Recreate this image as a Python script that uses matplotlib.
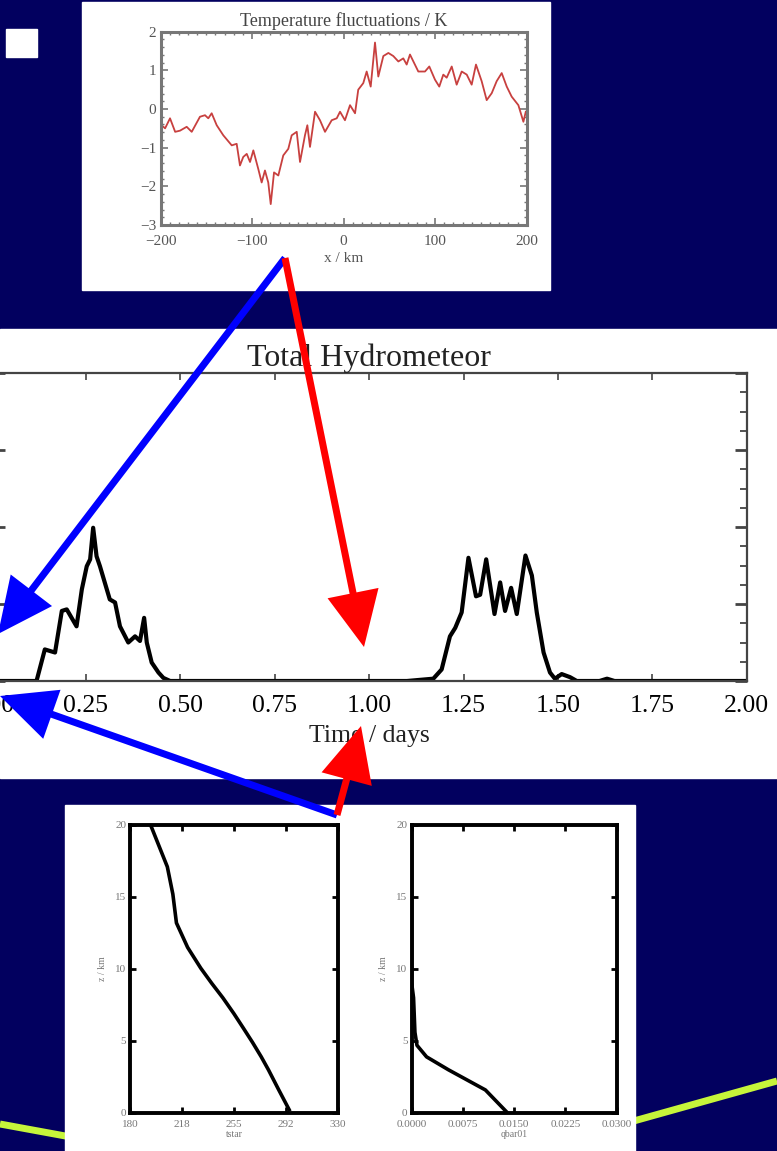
import numpy as np
import matplotlib
matplotlib.use("Agg")
import matplotlib.pyplot as plt
from matplotlib.patches import Rectangle, FancyArrow

plt.rcParams['font.family'] = ['Liberation Serif', 'DejaVu Serif']

# top panel: temperature fluctuations along x
x_km = [-198.7, -195, -189.6, -184, -178.7, -171.4, -165.9, -156.9, -151.4, -147.8,
        -144.1, -138.6, -131.4, -122.2, -116.8, -113.2, -109.6, -105.8, -102.2, -98.6,
        -93.2, -89.5, -85.9, -82.3, -79.6, -76, -71.3, -65.9, -60.4, -56.7,
        -51.2, -47.6, -42.2, -39.6, -36.7, -31.2, -25.8, -20.3, -13, -7.5,
        -3.9, 1.5, 7, 12.5, 16, 21.5, 25.2, 29.6, 34.3, 37.9,
        43.4, 48.9, 54.3, 59.8, 65.2, 68.9, 72.5, 81.6, 88.9, 93.6,
        99.8, 104.5, 108.9, 112.6, 118.1, 123.5, 129, 134.5, 139.9, 144.6,
        150.8, 156.3, 161.8, 167.2, 172.7, 178.2, 183.6, 190.9, 196.4, 199]
temp_k = [-0.42, -0.50, -0.24, -0.59, -0.56, -0.46, -0.59, -0.20, -0.16, -0.24,
          -0.11, -0.42, -0.68, -0.94, -0.90, -1.46, -1.24, -1.16, -1.37, -1.07,
          -1.55, -1.90, -1.59, -1.90, -2.46, -1.64, -1.72, -1.20, -1.03, -0.68,
          -0.59, -1.37, -0.68, -0.42, -0.98, -0.07, -0.29, -0.59, -0.29, -0.24,
          -0.07, -0.29, 0.10, -0.11, 0.50, 0.67, 0.97, 0.58, 1.72, 0.84,
          1.37, 1.45, 1.37, 1.23, 1.31, 1.15, 1.41, 0.97, 0.97, 1.10,
          0.76, 0.58, 0.89, 0.81, 1.10, 0.63, 0.97, 0.89, 0.63, 1.15,
          0.72, 0.23, 0.41, 0.72, 0.93, 0.58, 0.32, 0.10, -0.33, -0.07]
x_ticks = [-200, -100, 0, 100, 200]
t_ticks = [-3, -2, -1, 0, 1, 2]

# middle panel: total hydrometeor vs time
t_days = [0.0, 0.119, 0.141, 0.168, 0.186, 0.199, 0.225, 0.239, 0.252, 0.261,
          0.269, 0.278, 0.287, 0.313, 0.327, 0.340, 0.362, 0.380, 0.393, 0.404,
          0.411, 0.424, 0.442, 0.455, 0.473, 1.10, 1.170, 1.192, 1.214, 1.228,
          1.245, 1.263, 1.283, 1.294, 1.310, 1.332, 1.347, 1.360, 1.376, 1.391,
          1.414, 1.431, 1.444, 1.462, 1.479, 1.492, 1.510, 1.532, 1.55, 1.61,
          1.63, 1.65, 2.0]
hydro = [0.0, 0.0, 0.41, 0.37, 0.91, 0.93, 0.71, 1.19, 1.49, 1.58,
         1.99, 1.62, 1.49, 1.06, 1.02, 0.71, 0.50, 0.58, 0.52, 0.82,
         0.50, 0.24, 0.11, 0.04, 0.0, 0.0, 0.03, 0.15, 0.58, 0.69,
         0.89, 1.60, 1.10, 1.12, 1.58, 0.87, 1.28, 0.91, 1.21, 0.87,
         1.63, 1.37, 0.89, 0.37, 0.11, 0.03, 0.09, 0.05, 0.0, 0.0,
         0.03, 0.0, 0.0]
day_ticks = [0.0, 0.25, 0.5, 0.75, 1.0, 1.25, 1.5, 1.75, 2.0]

# bottom panels: initial profiles
z_tstar = [0.23, 1.6, 3.0, 3.9, 4.9, 5.9, 6.9, 8.0, 9.0, 10.06, 11.5, 13.2, 15.2, 17.1, 20]
tstar = [295, 287.5, 280, 274.8, 268.5, 261.8, 255, 247, 239, 231, 221.5, 213.4, 210.8, 206.8, 194.7]
z_km = [0, 1.6, 3.0, 3.9, 4.7, 5.6, 8.0, 9.1, 10.0, 15.0, 20]
qbar = [0.01405, 0.0108, 0.0054, 0.0022, 0.0008, 0.0005, 0.0003, 0.0, 0.0, 0.0, 0.0]
tstar_ticks = [180, 217.5, 255, 292.5, 330]
tstar_labels = ["180", "218", "255", "292", "330"]
q_ticks = [0.0, 0.0075, 0.015, 0.0225, 0.03]
q_labels = ["0.0000", "0.0075", "0.0150", "0.0225", "0.0300"]
z_ticks = [0, 5, 10, 15, 20]

W, H = 777, 1151
NAVY = '#02005f'


def px(x0, y0, x1, y1):
    return [x0 / W, 1 - y1 / H, (x1 - x0) / W, (y1 - y0) / H]


fig = plt.figure(figsize=(W / 100, H / 100), dpi=100, facecolor=NAVY)

# background layer: white panels, green line
bg = fig.add_axes([0, 0, 1, 1], zorder=0)
bg.set_xlim(0, W)
bg.set_ylim(H, 0)
bg.axis('off')
bg.plot([0, 376, 777], [1124, 1193, 1081], color='#c6f53a', lw=5, solid_capstyle='butt', zorder=1)
bg.add_patch(Rectangle((6, 29), 31, 28, color='white', zorder=2))
bg.add_patch(Rectangle((82, 2), 468, 288, color='white', zorder=2))
bg.add_patch(Rectangle((0, 329), 777, 449, color='white', zorder=2))
bg.add_patch(Rectangle((65, 805), 570, 346, color='white', zorder=2))

# top panel
ax1 = fig.add_axes(px(160.5, 31.7, 526.7, 225), zorder=1)
ax1.patch.set_alpha(0)
ax1.plot(x_km, temp_k, color='#c8403f', lw=1.3)
ax1.set_xlim(-200, 200)
ax1.set_ylim(-3, 2)
ax1.set_xticks(x_ticks)
ax1.set_yticks(t_ticks)
ax1.set_xticks(np.arange(-200, 201, 10), minor=True)
ax1.set_yticks(np.arange(-3, 2.01, 0.2), minor=True)
ax1.tick_params(which='both', direction='in', top=True, right=True, color='#777777',
                labelsize=11, labelcolor='#555555')
ax1.tick_params(which='major', length=5, width=1.2)
ax1.tick_params(which='minor', length=2.5, width=1)
ax1.tick_params(axis='x', pad=7)
ax1.tick_params(axis='y', pad=3)
for s in ax1.spines.values():
    s.set_color('#777777')
    s.set_linewidth(2.2)
ax1.set_title("Temperature fluctuations / K", fontsize=13, color='#444444', pad=4)
ax1.set_xlabel("x / km", fontsize=11, color='#555555', labelpad=3)

# middle panel
ax2 = fig.add_axes(px(-8.4, 373, 746.7, 681), zorder=1)
ax2.patch.set_alpha(0)
ax2.plot(t_days, hydro, color='black', lw=3, solid_joinstyle='round')
ax2.set_xlim(0, 2)
ax2.set_ylim(0, 4)
ax2.set_xticks(day_ticks)
ax2.set_xticklabels([f"{d:.2f}" for d in day_ticks])
ax2.set_yticks([0, 1, 2, 3, 4])
ax2.set_yticks(np.arange(0, 4.01, 0.25), minor=True)
ax2.set_yticklabels([])
ax2.tick_params(which='both', direction='in', top=True, right=True, color='#444444',
                labelsize=18.5)
ax2.tick_params(axis='x', which='major', length=5, width=1.2, pad=10)
ax2.tick_params(axis='y', which='major', length=9, width=2)
ax2.tick_params(axis='y', which='minor', length=5, width=1.3)
for s in ax2.spines.values():
    s.set_color('#444444')
    s.set_linewidth(1.6)
ax2.set_title("Total Hydrometeor", fontsize=23, color='#222222', pad=5)
ax2.set_xlabel("Time / days", fontsize=18.5, color='#222222', labelpad=6)

# bottom panels
ax3 = fig.add_axes(px(130.3, 825, 337.5, 1113), zorder=1)
ax4 = fig.add_axes(px(411.5, 825, 616.8, 1113), zorder=1)
ax3.plot(tstar, z_tstar, color='black', lw=2.6)
ax4.plot(qbar, z_km, color='black', lw=2.6)
ax3.set_xlim(180, 330)
ax3.set_xticks(tstar_ticks)
ax3.set_xticklabels(tstar_labels)
ax3.set_xlabel("tstar", fontsize=7, color='#777777', labelpad=1)
ax4.set_xlim(0, 0.03)
ax4.set_xticks(q_ticks)
ax4.set_xticklabels(q_labels)
ax4.set_xlabel("qbar01", fontsize=7, color='#777777', labelpad=1)
for ax in (ax3, ax4):
    ax.patch.set_alpha(0)
    ax.set_ylim(0, 20)
    ax.set_yticks(z_ticks)
    ax.set_ylabel("z / km", fontsize=7, color='#777777', labelpad=6)
    ax.tick_params(direction='in', top=True, right=True, length=4, width=2,
                   labelsize=8, labelcolor='#777777')
    ax.tick_params(axis='x', pad=5)
    ax.tick_params(axis='y', pad=3)
    for s in ax.spines.values():
        s.set_linewidth(2.8)

# arrows on top of everything
ov = fig.add_axes([0, 0, 1, 1], zorder=5)
ov.set_xlim(0, W)
ov.set_ylim(H, 0)
ov.axis('off')
arrows = [((285, 258), (-2, 634), 'blue'),
          ((285, 258), (364, 647), 'red'),
          ((337, 815), (0, 696), 'blue'),
          ((337, 815), (361, 726), 'red')]
for (x0, y0), (x1, y1), c in arrows:
    ov.add_patch(FancyArrow(x0, y0, x1 - x0, y1 - y0, width=7, head_width=52,
                            head_length=55, length_includes_head=True,
                            color='#0000ff' if c == 'blue' else '#ff0000', lw=0))

fig.savefig("out.png", dpi=100, facecolor=NAVY)
